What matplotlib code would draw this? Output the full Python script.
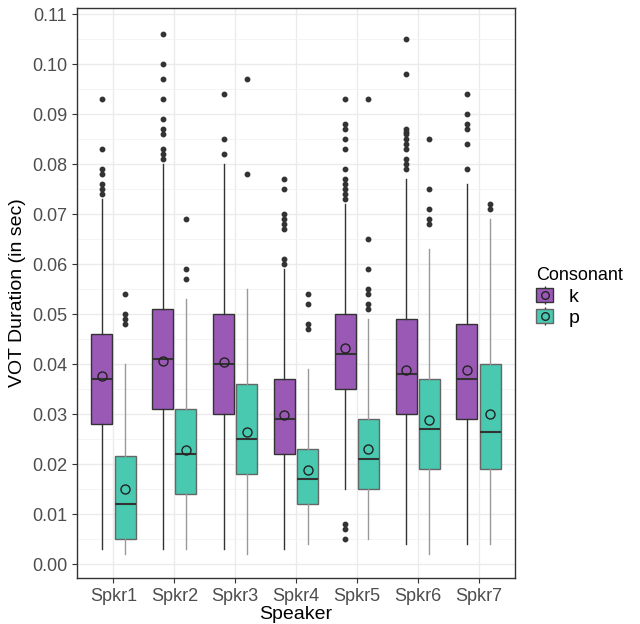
import matplotlib.pyplot as plt
import numpy as np
from matplotlib.patches import Patch
from matplotlib.lines import Line2D
from matplotlib.legend_handler import HandlerTuple

plt.rcParams['font.family'] = ['Liberation Sans', 'DejaVu Sans']

speakers = ['Spkr1', 'Spkr2', 'Spkr3', 'Spkr4', 'Spkr5', 'Spkr6', 'Spkr7']

# k (velar) stats per speaker
k_q1 = [0.028, 0.031, 0.030, 0.022, 0.035, 0.030, 0.029]
k_med = [0.037, 0.041, 0.040, 0.029, 0.042, 0.038, 0.037]
k_q3 = [0.046, 0.051, 0.050, 0.037, 0.050, 0.049, 0.048]
k_lo = [0.003, 0.003, 0.003, 0.003, 0.015, 0.004, 0.004]
k_hi = [0.073, 0.080, 0.080, 0.059, 0.072, 0.077, 0.076]
k_mean = [0.0376, 0.0407, 0.0405, 0.0298, 0.0432, 0.0389, 0.0388]
k_out = [
    [0.093, 0.083, 0.079, 0.078, 0.076, 0.075, 0.074],
    [0.106, 0.100, 0.097, 0.093, 0.089, 0.087, 0.086, 0.083, 0.082, 0.081],
    [0.094, 0.085, 0.082],
    [0.077, 0.075, 0.070, 0.069, 0.068, 0.067, 0.061, 0.060],
    [0.093, 0.088, 0.087, 0.085, 0.083, 0.079, 0.077, 0.076, 0.075, 0.074, 0.073,
     0.008, 0.007, 0.005],
    [0.105, 0.098, 0.087, 0.0865, 0.086, 0.085, 0.084, 0.083, 0.081, 0.080, 0.079],
    [0.094, 0.090, 0.088, 0.087, 0.084, 0.079],
]

# p (bilabial) stats per speaker
p_q1 = [0.005, 0.014, 0.018, 0.012, 0.015, 0.019, 0.019]
p_med = [0.012, 0.022, 0.025, 0.017, 0.021, 0.027, 0.0265]
p_q3 = [0.0217, 0.031, 0.036, 0.023, 0.029, 0.037, 0.040]
p_lo = [0.002, 0.003, 0.002, 0.004, 0.005, 0.002, 0.004]
p_hi = [0.040, 0.053, 0.055, 0.039, 0.049, 0.063, 0.069]
p_mean = [0.015, 0.0229, 0.0264, 0.0189, 0.0231, 0.0288, 0.0301]
p_out = [
    [0.054, 0.050, 0.049, 0.048],
    [0.069, 0.059, 0.057],
    [0.097, 0.078],
    [0.054, 0.052, 0.048, 0.047],
    [0.093, 0.065, 0.059, 0.055, 0.054, 0.052, 0.051],
    [0.085, 0.075, 0.071, 0.069, 0.068],
    [0.072, 0.071],
]

k_color = '#9B59B6'
p_color = '#48C9B0'


def stats(q1, med, q3, lo, hi, mean, out):
    return [dict(q1=a, med=b, q3=c, whislo=d, whishi=e, mean=f, fliers=g)
            for a, b, c, d, e, f, g in zip(q1, med, q3, lo, hi, mean, out)]


fig = plt.figure(figsize=(6.4, 6.24), dpi=100)
ax = fig.add_axes([0.1203, 0.0737, 0.8047 - 0.1203, 0.9872 - 0.0737])

x = np.arange(1, len(speakers) + 1)
off = 0.19
w = 0.345

groups = [
    (stats(k_q1, k_med, k_q3, k_lo, k_hi, k_mean, k_out), x - off, k_color, '#333333', '#333333'),
    (stats(p_q1, p_med, p_q3, p_lo, p_hi, p_mean, p_out), x + off, p_color, '#666666', '#999999'),
]
for st, pos, fc, ec, wc in groups:
    ax.bxp(st, positions=pos, widths=w, patch_artist=True, showmeans=True,
           showcaps=False, manage_ticks=False,
           boxprops=dict(facecolor=fc, edgecolor=ec, linewidth=1.0),
           medianprops=dict(color='#333333', linewidth=1.5),
           whiskerprops=dict(color=wc, linewidth=1.0),
           flierprops=dict(marker='o', markerfacecolor='#333333', markeredgecolor='#333333',
                           markersize=3.2, linestyle='none'),
           meanprops=dict(marker='o', markerfacecolor='none', markeredgecolor='#222222',
                          markersize=6.5, markeredgewidth=1.0),
           zorder=3)

ax.set_xlim(0.4, 7.6)
ax.set_ylim(-0.0028, 0.1113)
ax.set_xticks(x)
ax.set_xticklabels(speakers)
yt = np.round(np.arange(0, 0.111, 0.01), 2)
ax.set_yticks(yt)
ax.set_yticklabels(['%.2f' % v for v in yt])
ax.set_yticks(np.arange(0.005, 0.111, 0.01), minor=True)

ax.grid(True, which='major', color='#EBEBEB', linewidth=1.0, zorder=0)
ax.grid(True, which='minor', axis='y', color='#F2F2F2', linewidth=0.6, zorder=0)
ax.set_axisbelow(True)
for s in ax.spines.values():
    s.set_color('#333333')
    s.set_linewidth(1.0)
ax.tick_params(which='major', length=3.5, color='#333333', labelsize=13, labelcolor='#4D4D4D')
ax.tick_params(which='minor', length=0)

ax.set_xlabel('Speaker', fontsize=14, labelpad=1)
ax.set_ylabel('VOT Duration (in sec)', fontsize=14, labelpad=4)

handles = []
for fc, ec in [(k_color, '#333333'), (p_color, '#666666')]:
    handles.append((Line2D([0], [0], color='#333333', linewidth=0.8, marker='|', markersize=13, linestyle='none'),
                    Patch(facecolor=fc, edgecolor=ec),
                    Line2D([0], [0], marker='o', markerfacecolor='none', markeredgecolor='#222222',
                           markersize=5.5, linestyle='none')))
leg = fig.legend(handles, ['k', 'p'], title='Consonant', loc='upper left',
                 bbox_to_anchor=(0.81, 0.6), frameon=False, fontsize=14,
                 title_fontsize=13, handlelength=0.9, handleheight=0.7,
                 handletextpad=0.8, labelspacing=0.2,
                 handler_map={tuple: HandlerTuple(ndivide=1, pad=0)})
leg._legend_box.align = 'left'

fig.savefig('out.png', dpi=100)
